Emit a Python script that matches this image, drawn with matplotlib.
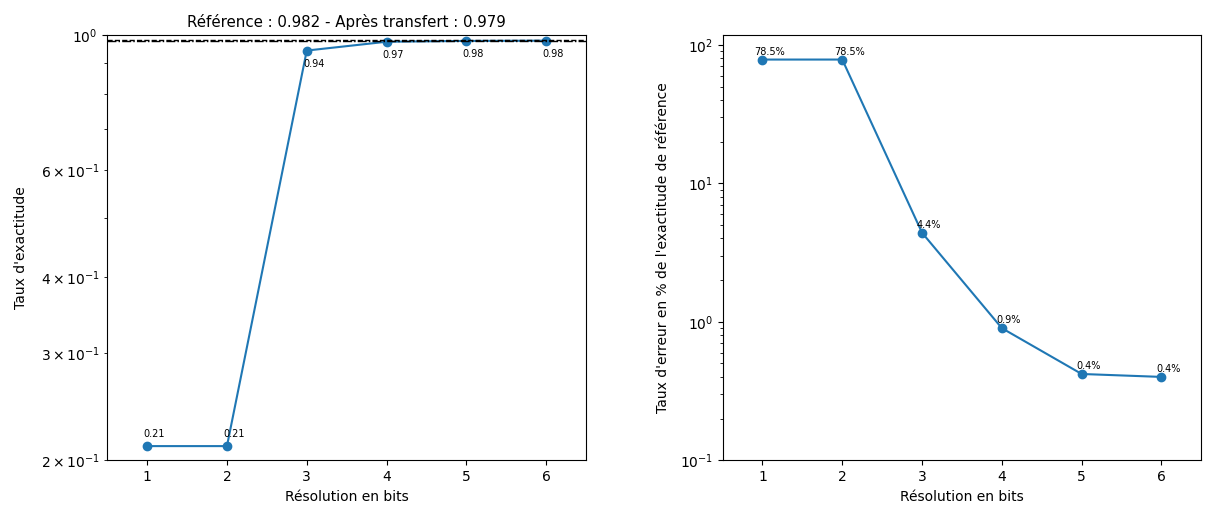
import matplotlib
matplotlib.use("Agg")
import matplotlib.pyplot as plt

bits = [1, 2, 3, 4, 5, 6]
accuracy = [0.211, 0.211, 0.943, 0.975, 0.978, 0.979]
acc_labels = ["0.21", "0.21", "0.94", "0.97", "0.98", "0.98"]
error_pct = [78.5, 78.5, 4.4, 0.9, 0.42, 0.40]
err_labels = ["78.5%", "78.5%", "4.4%", "0.9%", "0.4%", "0.4%"]
ref_acc = 0.982
transfer_acc = 0.979

fig, (ax1, ax2) = plt.subplots(1, 2, figsize=(12.05, 5.08), dpi=100)
fig.subplots_adjust(left=0.089, right=0.997, bottom=0.094, top=0.931, wspace=0.285)

ax1.plot(bits, accuracy, marker="o")
ax1.axhline(ref_acc, color="black", linestyle="--", linewidth=1)
ax1.axhline(transfer_acc, color="black", linestyle="-.", linewidth=1)
ax1.set_yscale("log")
ax1.set_ylim(0.2, 1.0)
ax1.set_xlim(0.5, 6.5)
for x, y, lab in zip(bits, accuracy, acc_labels):
    if y < 0.5:
        ax1.annotate(lab, (x, y), xytext=(5, 5), textcoords="offset points",
                     ha="center", va="bottom", fontsize=7)
    else:
        ax1.annotate(lab, (x, y), xytext=(5, -6), textcoords="offset points",
                     ha="center", va="top", fontsize=7)
ax1.set_title(f"Référence : {ref_acc} - Après transfert : {transfer_acc}", fontsize=10.8)
ax1.set_xlabel("Résolution en bits")
ax1.set_ylabel("Taux d'exactitude", labelpad=9)

ax2.plot(bits, error_pct, marker="o")
ax2.set_yscale("log")
ax2.set_ylim(0.1, 118)
ax2.set_xlim(0.5, 6.5)
for x, y, lab in zip(bits, error_pct, err_labels):
    ax2.annotate(lab, (x, y), xytext=(5, 2), textcoords="offset points",
                 ha="center", va="bottom", fontsize=7)
ax2.set_xlabel("Résolution en bits")
ax2.set_ylabel("Taux d'erreur en % de l'exactitude de référence", labelpad=7)

fig.savefig("out.png")
